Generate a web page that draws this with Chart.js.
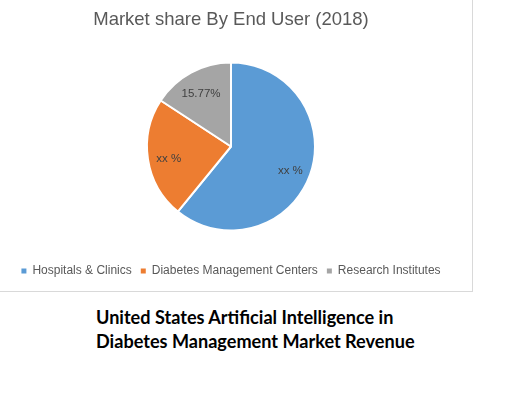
<!DOCTYPE html>
<html>
<head>
<meta charset="utf-8">
<script src="https://cdn.jsdelivr.net/npm/chart.js@4"></script>
<style>
  html, body { margin: 0; padding: 0; background: #fff; }
  body { width: 516px; height: 394px; position: relative; overflow: hidden; }
  #box { position: absolute; left: 0; top: 0; width: 472px; height: 291px;
         border-right: 1px solid #d9d9d9; border-bottom: 1px solid #d9d9d9; background: #fff; }
  #caption { position: absolute; left: 96px; top: 305px; font-family: Lato, "Liberation Sans", sans-serif;
             font-weight: bold; font-size: 18.1px; line-height: 24px; color: #000; white-space: nowrap; }
</style>
</head>
<body>
<div id="box"><canvas id="c" width="472" height="291"></canvas></div>
<div id="caption">United States Artificial Intelligence in<br>Diabetes Management Market Revenue</div>
<script>
const categories = ["Hospitals & Clinics", "Diabetes Management Centers", "Research Institutes"];
const shares = [60.9, 23.33, 15.77];
const sliceLabels = ["xx %", "xx %", "15.77%"];
const colors = ["#5B9BD5", "#ED7D31", "#A5A5A5"];
const chartTitle = "Market share By End User (2018)";

const FONT = '"Liberation Sans", Arial, sans-serif';

const sliceLabelPlugin = {
  id: 'sliceLabels',
  afterDatasetsDraw(chart) {
    const ctx = chart.ctx;
    const meta = chart.getDatasetMeta(0);
    ctx.save();
    ctx.font = '11.5px ' + FONT;
    ctx.fillStyle = '#404040';
    ctx.textAlign = 'center';
    ctx.textBaseline = 'middle';
    meta.data.forEach((arc, i) => {
      const p = arc.getProps(['x', 'y', 'startAngle', 'endAngle', 'outerRadius'], true);
      const mid = (p.startAngle + p.endAngle) / 2;
      const r = p.outerRadius * 0.75;
      ctx.fillText(sliceLabels[i], p.x + Math.cos(mid) * r, p.y + Math.sin(mid) * r + 3);
    });
    ctx.restore();
  }
};

new Chart(document.getElementById('c'), {
  type: 'pie',
  data: {
    labels: categories,
    datasets: [{
      data: shares,
      backgroundColor: colors,
      borderColor: '#ffffff',
      borderWidth: 2,
      radius: 84
    }]
  },
  options: {
    responsive: false,
    animation: false,
    layout: { padding: { left: 0, right: 10, top: 0, bottom: 4 } },
    plugins: {
      title: {
        display: true,
        text: chartTitle,
        color: '#595959',
        font: { family: FONT, size: 18.5, weight: 'normal' },
        padding: { top: 9, bottom: 5.8 }
      },
      legend: {
        position: 'bottom',
        labels: {
          color: '#595959',
          font: { family: FONT, size: 12 },
          boxWidth: 5,
          boxHeight: 5,
          padding: 9,
          generateLabels(chart) {
            const items = Chart.overrides.pie.plugins.legend.labels.generateLabels(chart);
            items.forEach(it => { it.lineWidth = 0; it.strokeStyle = it.fillStyle; });
            return items;
          }
        }
      },
      tooltip: { enabled: false }
    }
  },
  plugins: [sliceLabelPlugin]
});
</script>
</body>
</html>
